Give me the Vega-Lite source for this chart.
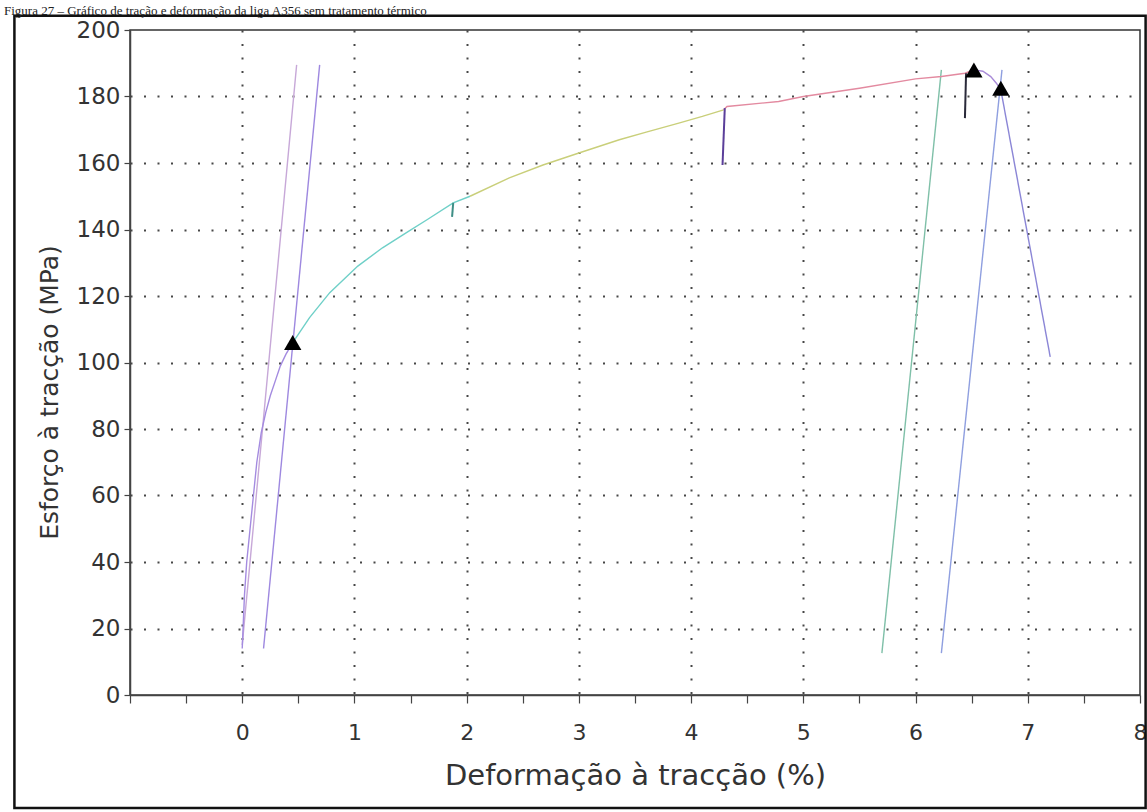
{
  "$schema": "https://vega.github.io/schema/vega-lite/v6.json",
  "width": 1010,
  "height": 665,
  "autosize": {"type": "none"},
  "padding": {"left": 130, "top": 30, "right": 7, "bottom": 117},
  "background": "white",
  "title": {
    "text": "Figura 27 – Gráfico de tração e deformação da liga A356 sem tratamento térmico",
    "anchor": "start", "orient": "top", "frame": "group",
    "font": "Liberation Serif", "fontSize": 13, "fontWeight": "normal", "color": "#222",
    "baseline": "alphabetic", "offset": 0, "dx": -126, "dy": 14
  },
  "config": {"view": {"stroke": "#333", "strokeWidth": 1.5}},
  "layer": [
    {
      "data": {"values": [{"k": 1}]},
      "mark": {"type": "rect", "filled": false, "stroke": "#111", "strokeWidth": 2.5, "clip": false},
      "encoding": {
        "x": {"datum": -2.03, "type": "quantitative", "scale": {"domain": [-1, 8], "nice": false, "zero": false}},
        "x2": {"datum": 8.05},
        "y": {"datum": -34, "type": "quantitative", "scale": {"domain": [0, 200], "nice": false}},
        "y2": {"datum": 204.3}
      }
    },
    {
      "data": {"values": [
        {"seg": "el1", "i": 0, "x": 0.0, "y": 15},
        {"seg": "el1", "i": 1, "x": 0.485, "y": 189.5},
        {"seg": "el2", "i": 0, "x": 0.19, "y": 14},
        {"seg": "el2", "i": 1, "x": 0.69, "y": 189.5},
        {"seg": "el3", "i": 0, "x": 5.70, "y": 12.6},
        {"seg": "el3", "i": 1, "x": 6.23, "y": 188},
        {"seg": "el4", "i": 0, "x": 6.23, "y": 12.6},
        {"seg": "el4", "i": 1, "x": 6.77, "y": 188},
        {"seg": "main_a", "i": 0, "x": 0.0, "y": 14},
        {"seg": "main_a", "i": 1, "x": 0.01, "y": 22},
        {"seg": "main_a", "i": 2, "x": 0.02, "y": 30},
        {"seg": "main_a", "i": 3, "x": 0.04, "y": 40},
        {"seg": "main_a", "i": 4, "x": 0.07, "y": 50},
        {"seg": "main_a", "i": 5, "x": 0.10, "y": 60},
        {"seg": "main_a", "i": 6, "x": 0.13, "y": 70},
        {"seg": "main_a", "i": 7, "x": 0.17, "y": 79},
        {"seg": "main_a", "i": 8, "x": 0.21, "y": 85},
        {"seg": "main_a", "i": 9, "x": 0.25, "y": 90},
        {"seg": "main_a", "i": 10, "x": 0.30, "y": 95},
        {"seg": "main_a", "i": 11, "x": 0.34, "y": 99},
        {"seg": "main_a", "i": 12, "x": 0.39, "y": 102.5},
        {"seg": "main_a", "i": 13, "x": 0.45, "y": 106},
        {"seg": "main_b", "i": 0, "x": 0.45, "y": 106},
        {"seg": "main_b", "i": 1, "x": 0.60, "y": 113.5},
        {"seg": "main_b", "i": 2, "x": 0.78, "y": 121},
        {"seg": "main_b", "i": 3, "x": 1.03, "y": 129},
        {"seg": "main_b", "i": 4, "x": 1.25, "y": 134.5},
        {"seg": "main_b", "i": 5, "x": 1.46, "y": 139},
        {"seg": "main_b", "i": 6, "x": 1.65, "y": 143},
        {"seg": "main_b", "i": 7, "x": 1.88, "y": 148},
        {"seg": "main_b", "i": 8, "x": 2.03, "y": 150},
        {"seg": "main_c", "i": 0, "x": 2.03, "y": 150},
        {"seg": "main_c", "i": 1, "x": 2.38, "y": 155.5},
        {"seg": "main_c", "i": 2, "x": 2.68, "y": 159.4},
        {"seg": "main_c", "i": 3, "x": 3.00, "y": 163},
        {"seg": "main_c", "i": 4, "x": 3.36, "y": 167},
        {"seg": "main_c", "i": 5, "x": 3.60, "y": 169.3},
        {"seg": "main_c", "i": 6, "x": 3.89, "y": 172},
        {"seg": "main_c", "i": 7, "x": 4.10, "y": 174},
        {"seg": "main_c", "i": 8, "x": 4.29, "y": 176},
        {"seg": "main_d", "i": 0, "x": 4.29, "y": 176},
        {"seg": "main_d", "i": 1, "x": 4.32, "y": 177},
        {"seg": "main_d", "i": 2, "x": 4.78, "y": 178.5},
        {"seg": "main_d", "i": 3, "x": 5.00, "y": 180},
        {"seg": "main_d", "i": 4, "x": 5.50, "y": 182.5},
        {"seg": "main_d", "i": 5, "x": 6.00, "y": 185.3},
        {"seg": "main_d", "i": 6, "x": 6.23, "y": 186},
        {"seg": "main_d", "i": 7, "x": 6.44, "y": 187},
        {"seg": "main_d", "i": 8, "x": 6.52, "y": 188},
        {"seg": "main_e", "i": 0, "x": 6.52, "y": 188},
        {"seg": "main_e", "i": 1, "x": 6.60, "y": 187.6},
        {"seg": "main_e", "i": 2, "x": 6.67, "y": 186},
        {"seg": "main_e", "i": 3, "x": 6.72, "y": 184},
        {"seg": "main_e", "i": 4, "x": 6.76, "y": 182},
        {"seg": "descent", "i": 0, "x": 6.76, "y": 182},
        {"seg": "descent", "i": 1, "x": 7.20, "y": 101.7}
      ]},
      "mark": {"type": "line", "strokeWidth": 1.4},
      "encoding": {
        "x": {
          "field": "x", "type": "quantitative",
          "scale": {"domain": [-1, 8], "nice": false, "zero": false},
          "axis": {
            "title": "Deformação à tracção (%)",
            "values": [-1, -0.5, 0, 0.5, 1, 1.5, 2, 2.5, 3, 3.5, 4, 4.5, 5, 5.5, 6, 6.5, 7, 7.5, 8],
            "labelExpr": "datum.value >= 0 && datum.value == floor(datum.value) ? format(datum.value, 'd') : ''",
            "grid": true, "gridDash": [2, 11.5], "gridColor": "#333", "gridWidth": 2,
            "gridOpacity": {"condition": {"test": "datum.value == floor(datum.value) && datum.value > -1 && datum.value < 8", "value": 0.9}, "value": 0},
            "domainColor": "#444", "domainWidth": 1.5,
            "tickColor": "#444", "tickSize": 8, "tickWidth": 1.2,
            "labelFont": "DejaVu Sans", "labelFontSize": 22, "labelColor": "#333", "labelPadding": 19,
            "labelFlush": false, "labelOverlap": false,
            "titleFont": "DejaVu Sans", "titleFontSize": 29, "titleFontWeight": "normal", "titleColor": "#333", "titlePadding": 18
          }
        },
        "y": {
          "field": "y", "type": "quantitative",
          "scale": {"domain": [0, 200], "nice": false},
          "axis": {
            "title": "Esforço à tracção (MPa)",
            "values": [0, 10, 20, 30, 40, 50, 60, 70, 80, 90, 100, 110, 120, 130, 140, 150, 160, 170, 180, 190, 200],
            "labelExpr": "datum.value % 20 == 0 ? format(datum.value, 'd') : ''",
            "grid": true, "gridDash": [2, 11.5], "gridColor": "#333", "gridWidth": 2,
            "gridOpacity": {"condition": {"test": "datum.value % 20 == 0 && datum.value > 0 && datum.value < 200", "value": 0.9}, "value": 0},
            "domainColor": "#444", "domainWidth": 1.5,
            "tickColor": "#444", "tickSize": 6, "tickWidth": 1.2,
            "labelFont": "DejaVu Sans", "labelFontSize": 23, "labelColor": "#333", "labelPadding": 4,
            "labelFlush": false, "labelOverlap": false,
            "titleFont": "DejaVu Sans", "titleFontSize": 25, "titleFontWeight": "normal", "titleColor": "#333", "titlePadding": 14,
            "titleY": 362
          }
        },
        "color": {
          "field": "seg", "type": "nominal", "legend": null,
          "scale": {
            "domain": ["el1", "el2", "el3", "el4", "main_a", "main_b", "main_c", "main_d", "main_e", "descent"],
            "range": ["#c7a8d8", "#9e88e0", "#7fc0a8", "#8f9fe0", "#a48be0", "#6fd0c8", "#c9cf7a", "#e38aa0", "#a98bd8", "#8b86d6"]
          }
        },
        "order": {"field": "i", "type": "quantitative"}
      }
    },
    {
      "data": {"values": [
        {"seg": "sp1", "i": 0, "x": 1.88, "y": 148},
        {"seg": "sp1", "i": 1, "x": 1.87, "y": 143.8},
        {"seg": "sp2", "i": 0, "x": 4.30, "y": 176.5},
        {"seg": "sp2", "i": 1, "x": 4.28, "y": 159.4},
        {"seg": "sp3", "i": 0, "x": 6.45, "y": 187},
        {"seg": "sp3", "i": 1, "x": 6.44, "y": 173.5}
      ]},
      "mark": {"type": "line", "strokeWidth": 2},
      "encoding": {
        "x": {"field": "x", "type": "quantitative", "scale": {"domain": [-1, 8], "nice": false, "zero": false}},
        "y": {"field": "y", "type": "quantitative", "scale": {"domain": [0, 200], "nice": false}},
        "color": {"field": "seg", "type": "nominal", "legend": null, "scale": {"domain": ["sp1", "sp2", "sp3"], "range": ["#3f8f86", "#5b3f9a", "#2a2a3a"]}},
        "order": {"field": "i", "type": "quantitative"}
      }
    },
    {
      "data": {"values": [
        {"x": 0.45, "y": 106},
        {"x": 6.52, "y": 188},
        {"x": 6.76, "y": 182.5}
      ]},
      "mark": {"type": "point", "shape": "triangle-up", "filled": true, "color": "black", "opacity": 1, "size": 300},
      "encoding": {
        "x": {"field": "x", "type": "quantitative", "scale": {"domain": [-1, 8], "nice": false, "zero": false}},
        "y": {"field": "y", "type": "quantitative", "scale": {"domain": [0, 200], "nice": false}}
      }
    }
  ],
  "resolve": {"scale": {"color": "independent"}}
}
